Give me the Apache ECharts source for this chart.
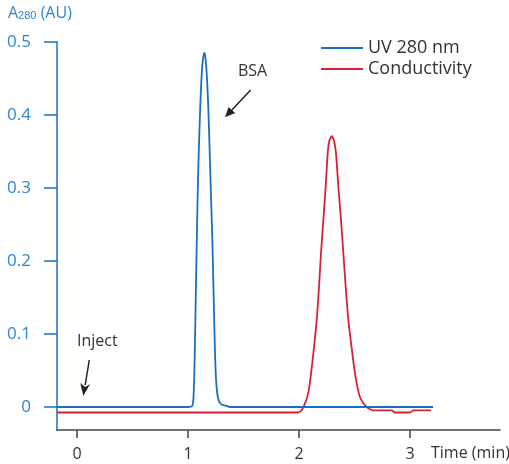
<!DOCTYPE html>
<html>
<head>
<meta charset="utf-8">
<script src="https://cdn.jsdelivr.net/npm/echarts@6/dist/echarts.min.js"></script>
<style>
    html, body { margin: 0; padding: 0; background: #fff; }
    #chart { width: 509px; height: 464px; }
</style>
</head>
<body>
<div id="chart"></div>
<script>
// 数据：时间(min) / 吸光度(AU)
const xTicks = [0, 1, 2, 3];
const yTicks = [0, 0.1, 0.2, 0.3, 0.4, 0.5];
const seriesNames = ['UV 280 nm', 'Conductivity'];

const uvTrace = [
    [-0.18, 0.0], [0.5, 0.0], [1.0, 0.0], [1.036, 0.001], [1.048, 0.01], [1.056, 0.04],
    [1.064, 0.1], [1.072, 0.17], [1.08, 0.235], [1.09, 0.31], [1.10, 0.365], [1.11, 0.41],
    [1.12, 0.446], [1.13, 0.47], [1.14, 0.482], [1.147, 0.485], [1.154, 0.482], [1.162, 0.47],
    [1.171, 0.45], [1.182, 0.413], [1.192, 0.366], [1.205, 0.30], [1.219, 0.229],
    [1.229, 0.165], [1.238, 0.105], [1.246, 0.06], [1.256, 0.03], [1.268, 0.014],
    [1.285, 0.006], [1.31, 0.003], [1.34, 0.002], [1.38, 0.0], [2.5, 0.0], [3.207, 0.0]
];

const condTrace = [
    [-0.18, -0.0075], [1.0, -0.0075], [1.99, -0.0075], [2.02, -0.005], [2.04, 0.0],
    [2.054, 0.005], [2.075, 0.014], [2.093, 0.028], [2.11, 0.048], [2.129, 0.0735],
    [2.159, 0.119], [2.18, 0.165], [2.198, 0.211], [2.219, 0.256], [2.24, 0.302],
    [2.258, 0.3475], [2.272, 0.364], [2.294, 0.371], [2.316, 0.364], [2.333, 0.3475],
    [2.354, 0.302], [2.378, 0.256], [2.399, 0.211], [2.42, 0.165], [2.444, 0.119],
    [2.48, 0.0735], [2.502, 0.048], [2.525, 0.028], [2.55, 0.013], [2.58, 0.005],
    [2.61, 0.0], [2.64, -0.003], [2.67, -0.0045], [2.835, -0.0045], [2.86, -0.0075],
    [3.0, -0.0075], [3.03, -0.0045], [3.19, -0.0045]
];

const blue = '#1b6fc2';
const red = '#d9203c';
const font = '"Open Sans", "Noto Sans", sans-serif';

const mychart = echarts.init(document.getElementById('chart'));
mychart.setOption({
    animation: false,
    textStyle: { fontFamily: font },
    grid: { left: 57, right: 9, top: 42, bottom: 34 },
    legend: {
        orient: 'vertical',
        left: 316,
        top: 33,
        itemWidth: 42,
        itemHeight: 2,
        itemGap: 1,
        icon: 'rect',
        textStyle: { fontSize: 18, color: '#333', lineHeight: 20 },
        data: seriesNames
    },
    xAxis: {
        type: 'value',
        min: -0.18,
        max: 3.81,
        axisLine: { onZero: false, lineStyle: { color: '#444', width: 1.5 } },
        axisTick: { customValues: xTicks, length: 8, lineStyle: { color: '#444', width: 1.5 } },
        axisLabel: { customValues: xTicks, fontSize: 16, color: '#333', margin: 16 },
        splitLine: { show: false }
    },
    yAxis: {
        type: 'value',
        min: -0.0315,
        max: 0.5,
        axisLine: { show: true, onZero: false, lineStyle: { color: blue, width: 1.5 } },
        axisTick: { show: true, customValues: yTicks, length: 13, lineStyle: { color: blue, width: 1.5 } },
        axisLabel: { customValues: yTicks, fontSize: 17, color: '#2f86d0', margin: 26 },
        splitLine: { show: false }
    },
    graphic: [
        // y轴标题
        {
            type: 'text', left: 8, top: 5,
            style: {
                text: 'A{s|280} (AU)',
                font: '16px ' + font,
                fill: '#2f86d0',
                rich: { s: { fontSize: 11, fill: '#2f86d0', padding: [6, 0, 0, 0] } }
            }
        },
        { type: 'text', left: 431, top: 445, style: { text: 'Time (min)', font: '16px ' + font, fill: '#333' } },
        // BSA标注
        { type: 'text', left: 238, top: 63, style: { text: 'BSA', font: '16px ' + font, fill: '#333' } },
        { type: 'line', shape: { x1: 250.7, y1: 90, x2: 231.8, y2: 110 }, style: { stroke: '#222', lineWidth: 1.5 } },
        { type: 'polygon', shape: { points: [[225, 117.3], [235.1, 113.1], [228.6, 106.9]] }, style: { fill: '#222' } },
        // Inject标注
        { type: 'text', left: 77, top: 333, style: { text: 'Inject', font: '16px ' + font, fill: '#333' } },
        { type: 'line', shape: { x1: 89.3, y1: 360, x2: 85.2, y2: 385 }, style: { stroke: '#222', lineWidth: 1.5 } },
        { type: 'polygon', shape: { points: [[83.3, 396], [90.1, 384], [85.2, 387], [80.3, 383]] }, style: { fill: '#222' } }
    ],
    series: [
        {
            name: seriesNames[0],
            type: 'line',
            data: uvTrace,
            showSymbol: false,
            smooth: 0.25,
            color: blue,
            lineStyle: { width: 1.8, color: blue },
            z: 3
        },
        {
            name: seriesNames[1],
            type: 'line',
            data: condTrace,
            showSymbol: false,
            smooth: 0.25,
            color: red,
            lineStyle: { width: 1.8, color: red },
            z: 2
        }
    ]
});
</script>
</body>
</html>
